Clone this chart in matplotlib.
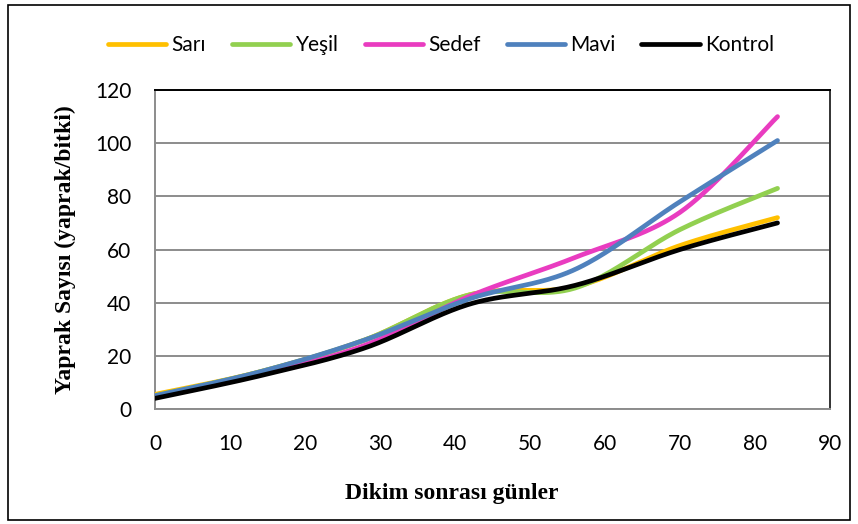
import matplotlib.pyplot as plt
import matplotlib.patches as mpatches
import numpy as np

# measurement days and leaf counts per treatment
days = [0, 14, 28, 42, 56, 70, 83]
sari = [5.5, 14, 26, 43, 46, 61.5, 72]
yesil = [5, 14, 26, 43, 45.5, 67.5, 83]
sedef = [4.5, 13, 24, 42.5, 57, 74, 110]
mavi = [5, 14, 26, 41.5, 52.5, 78, 101]
kontrol = [4, 12.5, 23, 39.5, 46.5, 60, 70]

series = [
    ("Sarı", sari, "#FFC000"),
    ("Yeşil", yesil, "#92D050"),
    ("Sedef", sedef, "#E93CC0"),
    ("Mavi", mavi, "#4F81BD"),
    ("Kontrol", kontrol, "#000000"),
]


def smooth(x, y, n=40):
    # spreadsheet-style smoothed line: cubic Bezier segments with
    # control points taken from neighbouring points
    x = np.asarray(x, float)
    y = np.asarray(y, float)
    px = np.concatenate([[x[0]], x, [x[-1]]])
    py = np.concatenate([[y[0]], y, [y[-1]]])
    xs, ys = [], []
    t = np.linspace(0, 1, n)
    for i in range(len(x) - 1):
        p0 = np.array([x[i], y[i]])
        p3 = np.array([x[i + 1], y[i + 1]])
        c1 = p0 + (np.array([px[i + 2], py[i + 2]]) - np.array([px[i], py[i]])) / 6
        c2 = p3 - (np.array([px[i + 3], py[i + 3]]) - np.array([px[i + 1], py[i + 1]])) / 6
        b = ((1 - t) ** 3)[:, None] * p0 + (3 * (1 - t) ** 2 * t)[:, None] * c1 \
            + (3 * (1 - t) * t ** 2)[:, None] * c2 + (t ** 3)[:, None] * p3
        xs.append(b[:, 0])
        ys.append(b[:, 1])
    return np.concatenate(xs), np.concatenate(ys)


fig = plt.figure(figsize=(8.58, 5.24), dpi=100, facecolor="white")
ax = fig.add_axes([0.1807, 0.2195, 0.7867, 0.6087])

for name, vals, color in series:
    sx, sy = smooth(days, vals)
    ax.plot(sx, sy, color=color, linewidth=3.4, solid_capstyle="round", label=name, zorder=3)

ax.set_xlim(0, 90)
ax.set_ylim(0, 120)
ax.set_xticks(range(0, 91, 10))
ax.set_yticks(range(0, 121, 20))
ax.grid(axis="y", color="#8c8c8c", linewidth=1.4)
ax.set_axisbelow(True)
ax.tick_params(length=0, labelsize=15)
ax.tick_params(axis="x", pad=18)
ax.tick_params(axis="y", pad=17)
for lab in ax.get_xticklabels() + ax.get_yticklabels():
    lab.set_family("Lato")

ax.spines["left"].set_color("#8c8c8c")
ax.spines["bottom"].set_color("#8c8c8c")
ax.spines["top"].set_color("black")
ax.spines["right"].set_color("#333333")
for s in ax.spines.values():
    s.set_linewidth(1.4)

ax.set_xlabel("Dikim sonrası günler", family="Liberation Serif", fontweight="bold",
              fontsize=17)
ax.xaxis.set_label_coords(0.44, -0.233)
ax.set_ylabel("Yaprak Sayısı (yaprak/bitki)", family="Liberation Serif", fontweight="bold",
              fontsize=17, labelpad=14)

fig.legend(loc="center", bbox_to_anchor=(0.514, 0.914), ncol=5, frameon=False,
           prop={"family": "Lato", "size": 15}, handlelength=2.8, handletextpad=0.25,
           columnspacing=1.25)

# outer chart frame
fig.patches.append(mpatches.Rectangle((0.009, 0.008), 0.982, 0.982, transform=fig.transFigure,
                                      fill=False, edgecolor="black", linewidth=1.2))

fig.savefig("out.png", dpi=100, facecolor="white")
